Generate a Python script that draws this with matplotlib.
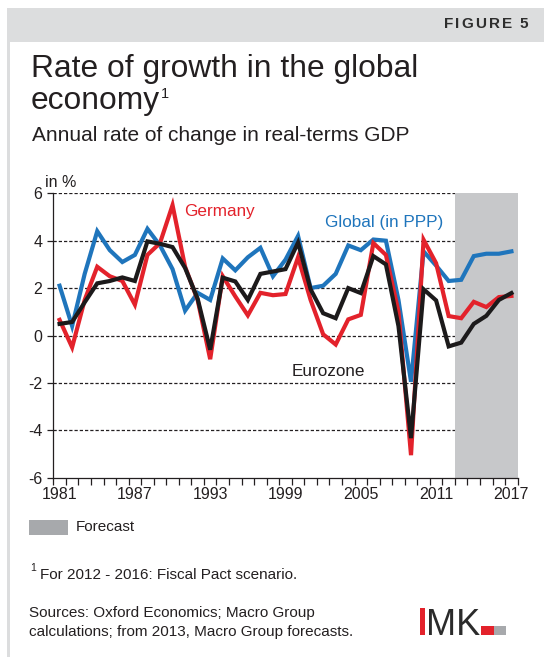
import matplotlib
matplotlib.use("Agg")
import matplotlib.pyplot as plt
from matplotlib.patches import Rectangle
import numpy as np

plt.rcParams['font.family'] = ['Liberation Sans', 'DejaVu Sans']

years = list(range(1981, 2018))
global_ppp = [2.1, 0.4, 2.6, 4.4, 3.6, 3.1, 3.4, 4.5, 3.8, 2.8, 1.05, 1.8, 1.5, 3.25, 2.75,
              3.3, 3.7, 2.5, 3.2, 4.2, 2.0, 2.1, 2.6, 3.8, 3.6, 4.05, 4.0, 1.5, -1.95, 3.55,
              2.95, 2.3, 2.35, 3.35, 3.45, 3.45, 3.55]
germany = [0.66, -0.5, 1.5, 2.9, 2.5, 2.3, 1.3, 3.4, 3.9, 5.5, 2.9, 1.5, -1.0, 2.5, 1.65,
           0.85, 1.8, 1.7, 1.75, 3.3, 1.5, 0.05, -0.38, 0.68, 0.87, 3.9, 3.4, 1.0, -5.05, 4.04,
           3.05, 0.82, 0.73, 1.42, 1.2, 1.62, 1.67]
eurozone = [0.49, 0.57, 1.4, 2.2, 2.3, 2.45, 2.3, 3.97, 3.87, 3.73, 2.85, 1.55, -0.6, 2.44, 2.28,
            1.5, 2.6, 2.7, 2.8, 3.92, 1.95, 0.94, 0.73, 2.0, 1.79, 3.35, 3.0, 0.4, -4.33, 1.95,
            1.48, -0.46, -0.3, 0.49, 0.83, 1.5, 1.79]
forecast_from = 2013
yticks = [-6, -4, -2, 0, 2, 4, 6]
xlabels = [1981, 1987, 1993, 1999, 2005, 2011, 2017]

RED = '#e3222b'
BLUE = '#1f75bc'
BLACK = '#1c1a1b'
TXT = '#231f20'

W, H = 544, 657
fig = plt.figure(figsize=(W / 100, H / 100), dpi=100)

def fx(px):
    return px / W

def fy(py):
    return 1 - py / H

# page frame: grey header band and left rule
fig.patches.append(Rectangle((fx(7), fy(42)), fx(537), 34 / H, transform=fig.transFigure,
                             facecolor='#dcddde', edgecolor='none'))
fig.patches.append(Rectangle((fx(7), 0), fx(3), fy(42), transform=fig.transFigure,
                             facecolor='#dcddde', edgecolor='none'))

# letter-spaced header, laid out right to left
fig.canvas.draw()
r = fig.canvas.get_renderer()
xpos = 528
for ch in reversed('FIGURE 5'):
    t = fig.text(fx(xpos), fy(24), ch, ha='right', va='center', fontsize=11,
                 fontweight='bold', color='#2e2e2e')
    w = t.get_window_extent(r).width if ch != ' ' else 3
    xpos -= w + 2.2

fig.text(fx(31), fy(77), 'Rate of growth in the global', fontsize=22.9, color=TXT,
         va='baseline')
t2 = fig.text(fx(31), fy(109), 'economy', fontsize=22.9, color=TXT, va='baseline')
fig.text(fx(32), fy(141), 'Annual rate of change in real-terms GDP', fontsize=15, color=TXT,
         va='baseline')

ax = fig.add_axes([fx(53.3), fy(477.7), fx(517.7 - 53.3), (477.7 - 193.3) / H])
x = np.arange(len(years))

start = years.index(forecast_from) - 0.5
ax.axvspan(start, len(years) - 0.5, color='#c7c8ca', lw=0, zorder=1.5)
for v in yticks[1:]:
    ax.axhline(v, color='#231f20', lw=0.9, ls=(0, (2.6, 1.6)), zorder=1)

ax.plot(x, global_ppp, color=BLUE, lw=3.0, zorder=3, solid_joinstyle='miter')
ax.plot(x, germany, color=RED, lw=3.0, zorder=4, solid_joinstyle='miter')
ax.plot(x, eurozone, color=BLACK, lw=3.0, zorder=5, solid_joinstyle='miter')

ax.set_xlim(-0.5, len(years) - 0.5)
ax.set_ylim(-6, 6)
ax.set_yticks(yticks)
ax.set_yticklabels([str(v) for v in yticks], fontsize=11.5, color=TXT)
ax.set_xticks(np.arange(-0.5, len(years)))
ax.set_xticklabels([])
ax.set_xticks([years.index(y) for y in xlabels], minor=True)
ax.set_xticklabels([str(y) for y in xlabels], minor=True, fontsize=11.5, color=TXT)
ax.tick_params(axis='x', which='major', length=5, width=0.9, color=TXT)
ax.tick_params(axis='x', which='minor', length=0, pad=7)
ax.tick_params(axis='y', length=4, width=0.9, color=TXT, pad=4)
for s in ['top', 'right']:
    ax.spines[s].set_visible(False)
for s in ['left', 'bottom']:
    ax.spines[s].set_linewidth(0.9)
    ax.spines[s].set_color(TXT)
ax.set_facecolor('none')

ax.text(years.index(1991) - 0.05, 5.25, 'Germany', color=RED, fontsize=12.3, va='center')
ax.text(years.index(2002) + 0.15, 4.75, 'Global (in PPP)', color=BLUE, fontsize=12.3,
        va='center')
ax.text(years.index(1999) + 0.45, -1.5, 'Eurozone', color=TXT, fontsize=12.3, va='center')
fig.text(fx(45), fy(183), 'in %', fontsize=11.5, color=TXT, va='center')

# legend for the forecast band
fig.patches.append(Rectangle((fx(29), fy(535)), fx(39), 15 / H, transform=fig.transFigure,
                             facecolor='#a7a9ac', edgecolor='none'))
fig.text(fx(76), fy(527), 'Forecast', fontsize=11, color=TXT, va='center')

fig.text(fx(30), fy(568), '1', fontsize=7.5, color=TXT, va='center')
fig.text(fx(40), fy(575), 'For 2012 - 2016: Fiscal Pact scenario.', fontsize=11, color=TXT,
         va='center')
fig.text(fx(29), fy(613), 'Sources: Oxford Economics; Macro Group', fontsize=11, color=TXT,
         va='center')
fig.text(fx(29), fy(632), 'calculations; from 2013, Macro Group forecasts.', fontsize=11,
         color=TXT, va='center')

# IMK logo
fig.patches.append(Rectangle((fx(420), fy(635)), fx(5), 27 / H, transform=fig.transFigure,
                             facecolor=RED, edgecolor='none'))
fig.text(fx(426), fy(635), 'MK', fontsize=26, color='#2b2b2b', va='baseline')
fig.patches.append(Rectangle((fx(481), fy(635)), fx(13), 9 / H, transform=fig.transFigure,
                             facecolor=RED, edgecolor='none'))
fig.patches.append(Rectangle((fx(494), fy(635)), fx(12), 9 / H, transform=fig.transFigure,
                             facecolor='#a7a9ac', edgecolor='none'))

# superscript after "economy"
fig.canvas.draw()
bb = t2.get_window_extent()
fig.text((bb.x1 + 1) / W, fy(94), '1', fontsize=10.5, color=TXT, va='center')

fig.savefig('out.png', dpi=100)
